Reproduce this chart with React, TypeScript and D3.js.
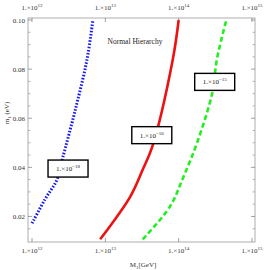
import React from 'react';
import * as d3 from 'd3';

// curve data: M1 [GeV] vs m1 [eV]
const blueM = [1.0e12, 1.5e12, 2.19e12, 2.63e12, 3.9e12, 5.62e12, 6.76e12];
const blueMass = [0.0172, 0.0269, 0.035, 0.044, 0.0635, 0.0838, 0.1];
const redM = [8.5e12, 2.19e13, 3.24e13, 4.37e13, 8.3e13, 1.0e14];
const redMass = [0.0107, 0.0281, 0.0391, 0.0484, 0.0838, 0.1];
const greenM = [3.24e13, 7.6e13, 1.15e14, 1.78e14, 2.88e14, 3.31e14, 4.47e14];
const greenMass = [0.0107, 0.024, 0.0358, 0.05, 0.0704, 0.0838, 0.1];

const labelExps = ['18', '16', '15'];
const labelM = [3.1e12, 4.3e13, 3.1e14];
const labelMass = [0.0395, 0.0531, 0.0748];

const xTicks = [1e12, 1e13, 1e14, 1e15];
const xTickExps = ['12', '13', '14', '15'];
const yTicks = [0.02, 0.04, 0.06, 0.08, 0.1];
const yTickLabels = ['0.02', '0.04', '0.06', '0.08', '0.10'];

export default function App() {
    const W = 273, H = 270;
    const left = 28, right = 255, top = 18, bottom = 242;
    const font = '"Liberation Serif", "DejaVu Serif", serif';

    const x = d3.scaleLog().domain([1e12, 1e15]).range([32, 252]);
    const y = d3.scaleLinear().domain([0.01, 0.1]).range([241, 20]);

    const line = d3.line<[number, number]>()
        .x(d => x(d[0]))
        .y(d => y(d[1]))
        .curve(d3.curveCatmullRom.alpha(0.5));

    const series = [
        { M: blueM, m: blueMass, color: '#1a1aee', width: 3, dash: '1.6 1.6' },
        { M: redM, m: redMass, color: '#ee1111', width: 2.6, dash: null },
        { M: greenM, m: greenMass, color: '#22ee22', width: 2.6, dash: '5 3' },
    ];

    const minorY = d3.range(0.015, 0.1001, 0.005).filter(v => Math.abs(v / 0.02 - Math.round(v / 0.02)) > 1e-6);

    return (
        <div style={{ position: 'absolute', left: 0, top: 0 }}>
            <svg width={W} height={H} style={{ display: 'block', background: '#fff' }} fontFamily={font}>
                <defs>
                    <clipPath id="plotclip">
                        <rect x={left} y={top} width={right - left} height={bottom - top} />
                    </clipPath>
                </defs>
                {/* frame */}
                <rect x={left} y={top} width={right - left} height={bottom - top} fill="none" stroke="#999" strokeWidth={0.8} />

                {/* x ticks top & bottom */}
                {xTicks.map((t, i) => (
                    <g key={'xt' + i}>
                        <line x1={x(t)} x2={x(t)} y1={bottom} y2={bottom - 4} stroke="#888" strokeWidth={0.8} />
                        <line x1={x(t)} x2={x(t)} y1={top} y2={top + 4} stroke="#888" strokeWidth={0.8} />
                        <text x={x(t)} y={253} fontSize={7} textAnchor="middle" fill="#333">
                            1.×10<tspan fontSize={5} dy={-3}>{xTickExps[i]}</tspan>
                        </text>
                        <text x={x(t)} y={10} fontSize={7} textAnchor="middle" fill="#333">
                            1.×10<tspan fontSize={5} dy={-3}>{xTickExps[i]}</tspan>
                        </text>
                    </g>
                ))}

                {/* y ticks left & right */}
                {yTicks.map((t, i) => (
                    <g key={'yt' + i}>
                        <line x1={left} x2={left + 4} y1={y(t)} y2={y(t)} stroke="#888" strokeWidth={0.8} />
                        <line x1={right} x2={right - 4} y1={y(t)} y2={y(t)} stroke="#888" strokeWidth={0.8} />
                        <text x={left - 3} y={y(t) + 2.5} fontSize={7} textAnchor="end" fill="#333">{yTickLabels[i]}</text>
                    </g>
                ))}
                {minorY.map((t, i) => (
                    <g key={'ym' + i}>
                        <line x1={left} x2={left + 2.5} y1={y(t)} y2={y(t)} stroke="#999" strokeWidth={0.7} />
                        <line x1={right} x2={right - 2.5} y1={y(t)} y2={y(t)} stroke="#999" strokeWidth={0.7} />
                    </g>
                ))}

                {/* curves */}
                <g clipPath="url(#plotclip)">
                    {series.map((s, i) => (
                        <path key={'s' + i}
                            d={line(s.M.map((v, j) => [v, s.m[j]] as [number, number])) || ''}
                            fill="none" stroke={s.color} strokeWidth={s.width}
                            strokeDasharray={s.dash || undefined} />
                    ))}
                </g>

                {/* curve labels */}
                {labelExps.map((e, i) => (
                    <g key={'lb' + i} transform={`translate(${x(labelM[i])},${y(labelMass[i])})`}>
                        <rect x={-20} y={-8.5} width={40} height={17} fill="#fff" stroke="#000" strokeWidth={1.4} />
                        <text x={0} y={2.5} fontSize={7} textAnchor="middle" fill="#222">
                            1.×10<tspan fontSize={5} dy={-3}>{'\u2212' + e}</tspan>
                        </text>
                    </g>
                ))}

                <text x={135} y={44} fontSize={7.5} textAnchor="middle" fill="#222">Normal Hierarchy</text>

                {/* axis labels */}
                <text transform={`translate(9,113) rotate(-90)`} fontSize={7} textAnchor="middle" fill="#333">
                    m<tspan fontSize={5} dy={1.5}>1</tspan><tspan dy={-1.5}> (eV)</tspan>
                </text>
                <text x={143} y={267} fontSize={7} textAnchor="middle" fill="#333">
                    M<tspan fontSize={5} dy={1.5}>1</tspan><tspan dy={-1.5}>[GeV]</tspan>
                </text>
            </svg>
        </div>
    );
}
